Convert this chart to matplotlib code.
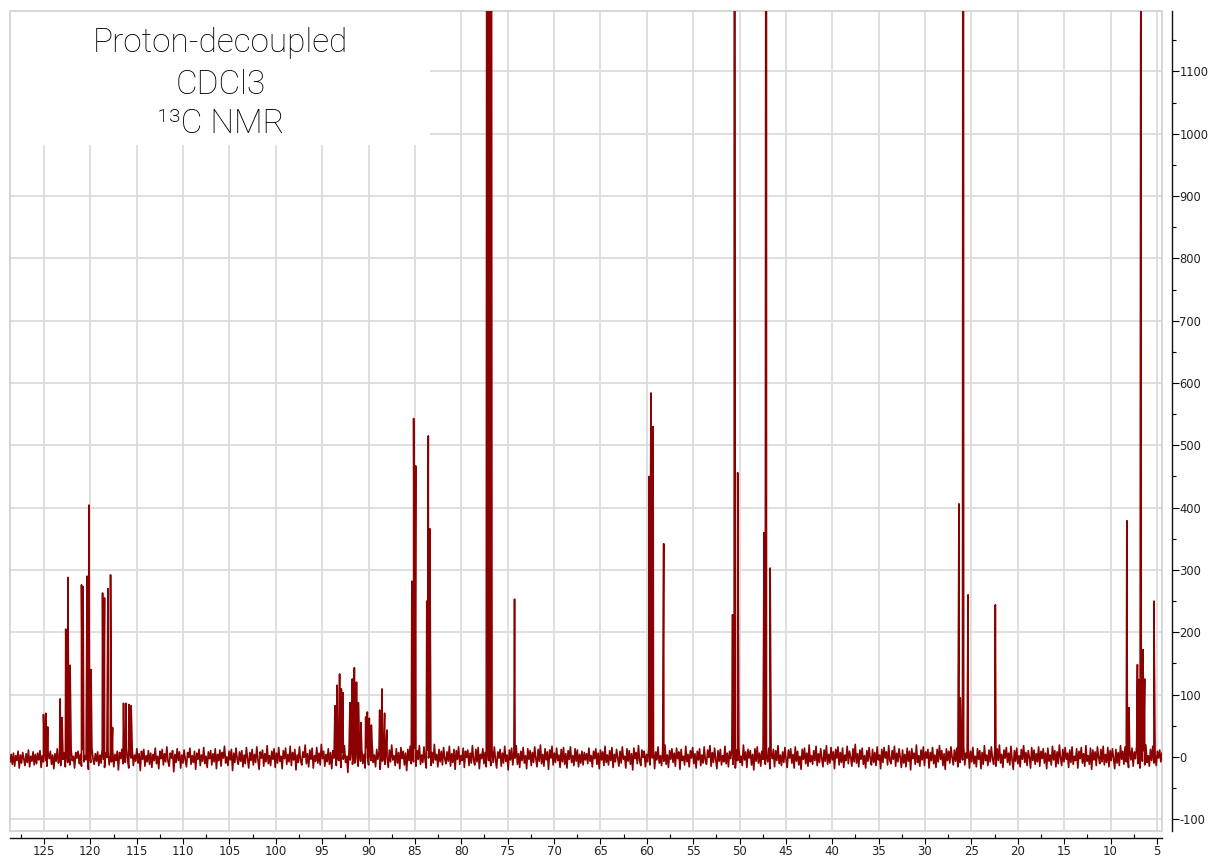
import numpy as np
import matplotlib
matplotlib.use("Agg")
import matplotlib.pyplot as plt
from matplotlib.patches import Rectangle
from matplotlib.ticker import MultipleLocator

plt.rcParams["axes.unicode_minus"] = False

# chemical-shift window (ppm, reversed) and intensity window
PPM_LEFT, PPM_RIGHT = 128.66, 4.45
Y_BOTTOM, Y_TOP = -119, 1197

# baseline noise, evenly spaced across the window from left (high ppm) to right
baseline_noise = [
    -8, 4, -12, 6, -15, 2, -6, 9, -18, 3, -10, 7, -4, -14, 5, -9, 11, -16, 1, -7, 8, -13, 4, -11, 6,
    -5, 10, -17, 2, -8, 12, -6, -15, 7, -3, 9, -12, 3, -19, 5, -7, 13, -10, 0, -14, 8, -4, 6, -16, 10,
    -9, 3, -13, 11, -6, 1, -18, 7, -2, 9, -11, 4, -15, 12, -8, 2, -5, 10, -20, 6, -9, 14, -3, -12, 5,
    -7, 8, -14, 3, -10, 13, -4, -17, 6, -1, 10, -13, 2, -8, 11, -16, 4, -6, 9, -21, 7, -3, 12, -11, 1,
    -9, 15, -5, -18, 8, -2, 11, -14, 3, -7, 13, -10, 5, -22, 9, -4, 12, -15, 2, -8, 10, -12, 6, -17, 4,
    -6, 14, -11, 1, -19, 9, -3, 12, -13, 5, -8, 16, -7, -15, 6, -2, 10, -24, 4, -9, 13, -6, 8, -18, 3,
    -10, 11, -5, -16, 7, -1, 14, -12, 2, -9, 9, -20, 6, -4, 12, -14, 3, -7, 15, -11, 1, -17, 8, -3, 10,
    -13, 5, -8, 13, -19, 4, -6, 11, -15, 7, -2, 17, -10, 0, -14, 9, -5, 12, -22, 6, -9, 14, -4, -12, 8,
    -7, 10, -16, 3, -11, 15, -3, -18, 7, -6, 12, -13, 4, -9, 16, -5, -20, 8, -2, 11, -15, 5, -8, 18, -11,
    2, -14, 9, -4, 13, -17, 6, -10, 15, -7, 1, -19, 10, -3, 14, -12, 4, -8, 17, -14, 7, -5, 12, -21, 3,
    -9, 16, -6, -13, 8, -1, 19, -11, 5, -16, 11, -4, 14, -18, 2, -7, 15, -10, 6, -13, 20, -3, 9, -15, 4,
    -8, 13, -12, 7, -19, 10, -2, 16, -14, 3, -6, 12, -17, 8, -4, 18, -9, 1, -25, 11, -5, 14, -12, 6, -10,
    17, -3, -15, 9, -7, 13, -11, 4, -18, 15, -1, -13, 10, -6, 21, -9, 3, -16, 12, -4, 8, -20, 14, -7, 5,
    -12, 16, -2, -17, 11, -8, 19, -5, 2, -14, 13, -10, 7, -19, 15, -3, 9, -13, 6, -22, 12, -6, 17, -11, 1,
    -8, 14, -15, 10, -4, 18, -12, 3, -9, 16, -6, -18, 11, -2, 13, -14, 7, -10, 20, -5, 4, -16, 12, -8, 9,
    -13, 15, -3, -11, 8, -7, 17, -15, 5, -9, 12, -20, 10, -4, 16, -12, 2, -6, 14, -17, 9, -1, 11, -14, 6,
    -10, 18, -5, -13, 12, -8, 15, -19, 4, -3, 13, -11, 7, -16, 19, -6, 1, -14, 10, -9, 16, -4, -18, 8, -2,
    12, -15, 6, -10, 17, -7, 3, -21, 11, -5, 14, -13, 8, -2, 18, -12, 5, -17, 9, -6, 15, -10, 2, -19, 13,
    -4, 10, -14, 7, -9, 16, -3, -16, 12, -7, 19, -11, 4, -15, 13, -5, 8, -20, 11, -2, 17, -13, 6, -9, 14,
    -6, 3, -17, 12, -8, 15, -12, 5, -18, 10, -4, 16, -9, 2, -14, 13, -7, 11, -16, 4, -10, 9, -13, 7, -5,
    5, -11, 14, -7, 2, -16, 9, -3, 13, -12, 6, -19, 11, -5, 8, -14, 17, -9, 3, -13, 10, -6, 15, -17, 4,
    -8, 12, -2, -15, 9, -10, 16, -4, 1, -18, 13, -7, 10, -12, 5, -21, 14, -3, 7, -11, 18, -6, -14, 11, -1,
    9, -16, 4, -8, 15, -13, 6, -2, 12, -19, 8, -5, 16, -10, 2, -14, 11, -7, 19, -12, 3, -17, 10, -4, 13,
    -9, 6, -15, 14, -3, 8, -20, 12, -6, 1, -13, 17, -8, 4, -16, 10, -2, 15, -11, 5, -18, 9, -5, 13, -14,
    3, -10, 16, -6, -12, 11, -1, 18, -15, 7, -9, 14, -4, -19, 10, -7, 12, -13, 2, -8, 17, -11, 6, -16, 9,
    -3, 14, -12, 5, -18, 11, -6, 15, -9, 1, -14, 19, -5, 8, -17, 12, -2, 10, -13, 4, -21, 13, -7, 16, -10,
    6, -15, 9, -4, 17, -12, 2, -8, 14, -19, 7, -3, 12, -16, 10, -6, 18, -11, 3, -14, 8, -9, 15, -5, -17,
    11, -2, 13, -10, 4, -18, 16, -7, 9, -13, 1, -20, 12, -4, 14, -11, 6, -15, 19, -8, 2, -12, 10, -6, 17,
    -14, 5, -9, 13, -3, -16, 11, -7, 18, -12, 4, -10, 15, -5, 8, -19, 12, -2, 16, -13, 7, -9, 14, -17, 3,
    -6, 17, -11, 9, -1, -15, 13, -8, 20, -10, 5, -16, 11, -4, 14, -12, 2, -18, 10, -7, 15, -3, -13, 12, -9,
    7, -14, 16, -5, 3, -19, 12, -9, 15, -2, 8, -13, 18, -6, -11, 10, -4, 17, -15, 6, -8, 13, -1, -17, 11,
    -10, 4, -16, 14, -7, 9, -21, 13, -3, 6, -12, 19, -9, 2, -15, 11, -5, 16, -14, 8, -2, 12, -18, 7, -6,
    15, -11, 3, -17, 12, -8, 18, -4, 10, -14, 5, -20, 13, -6, 9, -10, 16, -1, -13, 11, -7, 14, -16, 4, -9,
    12, -5, 17, -13, 6, -2, 14, -18, 9, -8, 15, -11, 1, -16, 13, -4, 10, -19, 7, -12, 18, -6, 3, -14, 11,
    -8, 16, -3, -12, 9, -15, 13, -6, 19, -10, 4, -17, 11, -2, 15, -9, 6, -13, 17, -5, -20, 10, -7, 14, -11,
    2, -16, 12, -4, 18, -9, 7, -14, 10, -1, -18, 15, -6, 11, -12, 5, -8, 16, -15, 9, -3, 13, -10, 6, -19,
    14, -7, 3, -13, 17, -5, 10, -16, 8, -11, 19, -2, -14, 12, -8, 15, -4, 6, -17, 11, -9, 16, -12, 1, -6,
    13, -18, 9, -3, 15, -10, 5, -15, 18, -7, 2, -12, 14, -20, 11, -5, 8, -14, 16, -1, -11, 12, -8, 17, -13,
    4, -9, 15, -16, 10, -6, 13, -2, -19, 12, -10, 7, -14, 18, -4, 9, -12, 16, -8, 3, -17, 11, -5, 14, -15,
    8, -3, 16, -11, 5, -18, 13, -7, 10, -13, 19, -9, 2, -15, 12, -6, 17, -10, 4, -14, 9, -2, 11, -8, 6,
]

# resolved lines: shift (ppm) and height; anything above ~1197 runs off the top
peak_ppm = [
    125.05, 124.80, 124.60,
    123.25, 123.05, 122.65, 122.42, 122.18,
    120.95, 120.78, 120.35, 120.15, 119.92,
    118.68, 118.47, 118.10, 117.82, 117.60,
    116.42, 116.15, 115.82, 115.60,
    93.62, 93.40, 93.12, 92.93, 92.75,
    92.00, 91.75, 91.53, 91.30, 91.10, 90.82,
    90.31, 90.13, 89.92, 89.70,
    88.80, 88.56, 88.27, 88.02,
    85.33, 85.14, 84.92,
    83.72, 83.56, 83.39,
    77.20, 77.00, 76.80,
    74.26,
    59.76, 59.65, 59.54, 59.32,
    58.18,
    50.75, 50.56, 50.20,
    47.35, 47.22, 47.10, 46.70,
    26.34, 26.20, 25.88, 25.36,
    22.42,
    8.24, 8.02, 7.10, 6.98, 6.75, 6.70, 6.50, 6.32,
    5.32,
]
peak_height = [
    68, 70, 48,
    93, 63, 205, 288, 147,
    276, 273, 290, 404, 140,
    263, 255, 270, 292, 47,
    86, 86, 84, 82,
    82, 115, 133, 109, 103,
    87, 125, 143, 120, 87, 55,
    64, 72, 62, 51,
    75, 109, 70, 43,
    282, 543, 467,
    250, 515, 366,
    3000, 3100, 2900,
    253,
    450, 265, 584, 530,
    342,
    228, 3000, 456,
    360, 190, 3000, 303,
    406, 95, 3000, 260,
    244,
    379, 79, 148, 124, 1154, 1300, 172, 125,
    250,
]

label_lines = ["Proton-decoupled", "CDCl3", "¹³C NMR"]
x_ticks = list(range(125, 0, -5))
y_ticks = list(range(-100, 1101, 100))

LINE_COLOR = "#8b0000"
GRID_COLOR = "#dcdcdc"

# merge the baseline and the lines into one trace ordered by shift
noise_ppm = np.linspace(PPM_LEFT, PPM_RIGHT, len(baseline_noise))
ppm = np.concatenate([noise_ppm, peak_ppm])
inten = np.concatenate([baseline_noise, peak_height]).astype(float)
order = np.argsort(-ppm, kind="stable")

fig = plt.figure(figsize=(12.08, 8.58), dpi=100)
ax = fig.add_axes([10 / 1208, 27 / 858, 1152 / 1208, 820 / 858])

ax.plot(ppm[order], inten[order], color=LINE_COLOR, lw=1.2, zorder=2)

ax.set_xlim(PPM_LEFT, PPM_RIGHT)
ax.set_ylim(Y_BOTTOM, Y_TOP)

ax.set_xticks(x_ticks)
ax.set_yticks(y_ticks)
ax.xaxis.set_minor_locator(MultipleLocator(2.5))
ax.yaxis.set_minor_locator(MultipleLocator(50))
ax.yaxis.tick_right()
ax.set_axisbelow(True)
ax.grid(True, which="major", color=GRID_COLOR, lw=1.3)

for side in ("top", "left"):
    ax.spines[side].set_visible(False)
ax.spines["bottom"].set_position(("outward", 5))
ax.spines["right"].set_position(("outward", 7))
for side in ("bottom", "right"):
    ax.spines[side].set_color("#111111")
    ax.spines[side].set_linewidth(1.0)

ax.tick_params(axis="x", which="major", direction="out", length=4, width=0.8,
               pad=1, labelsize=8.5, labelcolor="#222222")
ax.tick_params(axis="x", which="minor", direction="in", length=3, width=0.8)
ax.tick_params(axis="y", which="major", direction="out", length=5, width=0.8,
               pad=0.5, labelsize=8.3, labelcolor="#222222")
ax.tick_params(axis="y", which="minor", direction="out", length=3, width=0.8)

# light grey plot frame, separate from the black scale lines
ax.add_patch(Rectangle((0, 0), 1, 1, transform=ax.transAxes, fill=False,
                       ec="#cfcfcf", lw=1.2, clip_on=False, zorder=1.5))

# white label panel in the top-left corner
ax.add_patch(Rectangle((0, 0.8366), 0.3646, 0.1634, transform=ax.transAxes,
                       fc="white", ec="none", zorder=1.2))
for txt, yy in zip(label_lines, [0.950, 0.899, 0.851]):
    ax.text(0.183, yy, txt, transform=ax.transAxes, ha="center", va="baseline",
            fontsize=24, fontweight="light",
            family=["Roboto", "DejaVu Sans"], color="black", zorder=3)

fig.savefig("out.png", dpi=100, facecolor="white")
